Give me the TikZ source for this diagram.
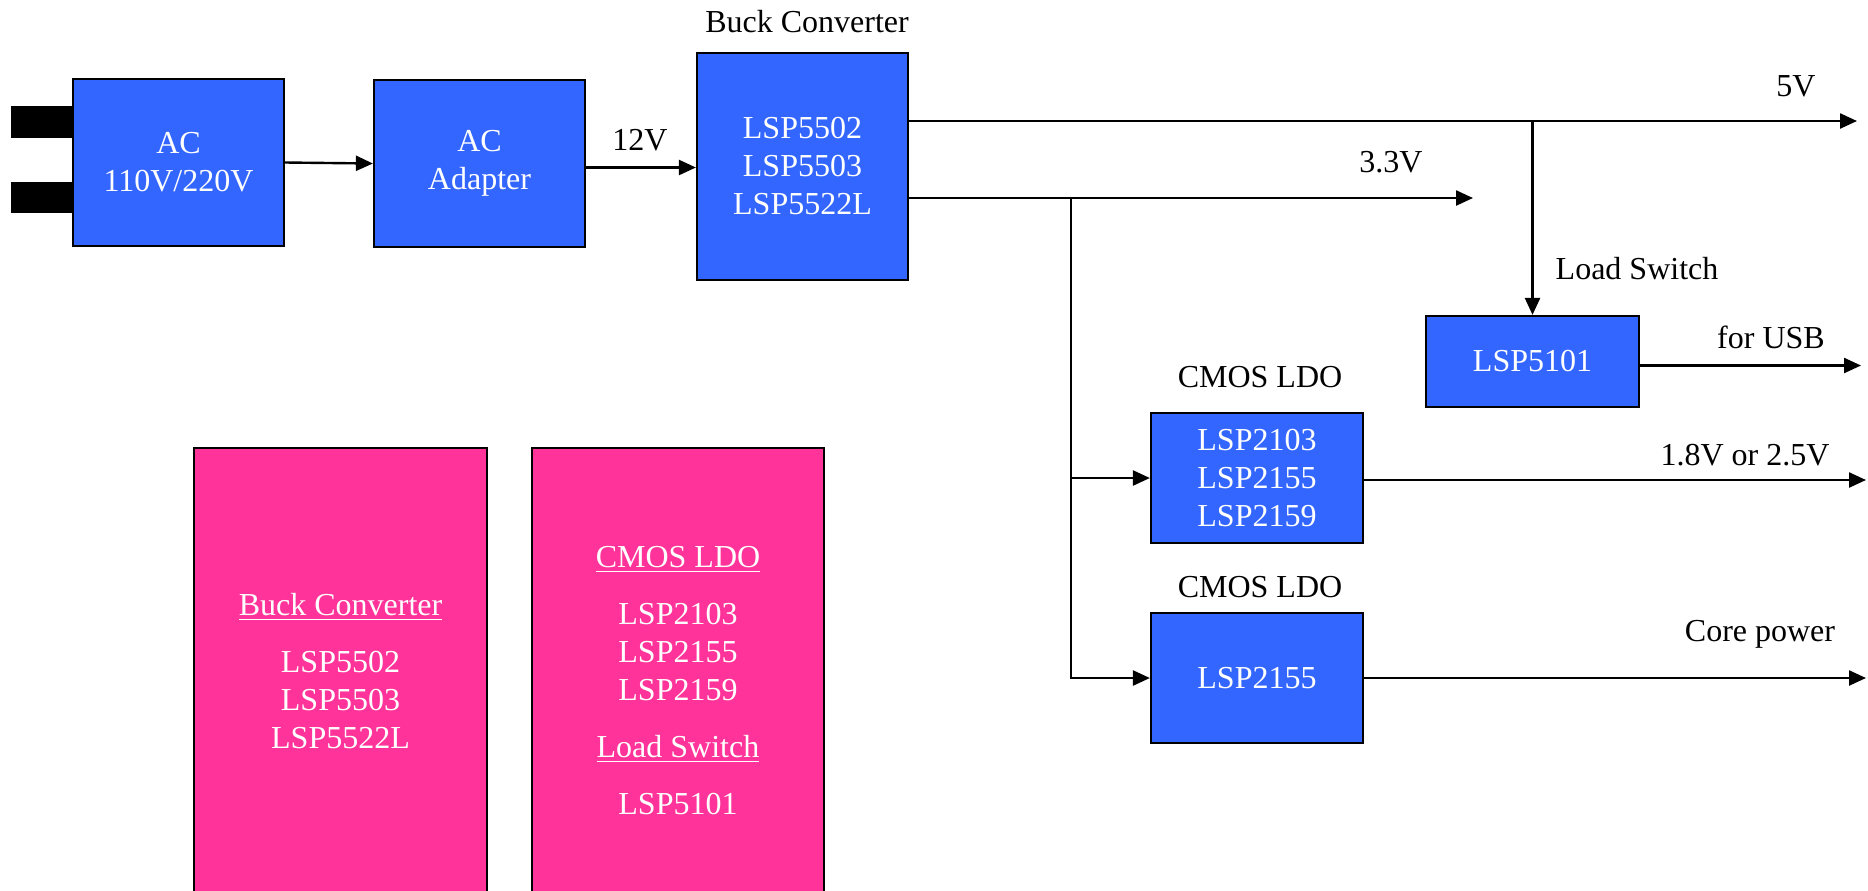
\documentclass[tikz,border=0pt]{standalone}
\usepackage{fontspec}
\setmainfont{Liberation Serif}
\usetikzlibrary{arrows.meta}
\definecolor{boxblue}{RGB}{51,102,255}
\definecolor{boxpink}{RGB}{255,51,153}
\begin{document}
\begin{tikzpicture}[x=0.5pt,y=-0.5pt,blk/.style={shape=rectangle,draw=black,line width=1.1pt,fill=boxblue,text=white,align=center,inner sep=0pt,font=\fontsize{16}{19}\selectfont},pnk/.style={blk,fill=boxpink,line width=0.8pt},lbl/.style={anchor=base,inner sep=0pt,font=\fontsize{16}{19}\selectfont},arr/.style={line width=1.2pt,-{Triangle[length=8.5pt,width=7.5pt]}}]
\useasboundingbox (0,0) rectangle (1868,890);
\clip (0,0) rectangle (1868,890);

\fill[black] (11,106) rectangle (80,138);
\fill[black] (11,182) rectangle (80,213);

\node[blk,minimum width=105.5pt,minimum height=83.5pt] (AC) at (178.5,162.5) {AC\\110V/220V};
\node[blk,minimum width=105.5pt,minimum height=83.5pt] (ADP) at (479.5,163.5) {AC\\Adapter};
\node[blk,minimum width=105.5pt,minimum height=113.5pt] (BUCK) at (802.5,166.5) {LSP5502\\LSP5503\\LSP5522L};
\node[blk,minimum width=106.5pt,minimum height=45.5pt] (LSW) at (1532.5,361.5) {LSP5101};
\node[blk,minimum width=106pt,minimum height=65pt] (LDOa) at (1257,478) {LSP2103\\LSP2155\\LSP2159};
\node[blk,minimum width=106pt,minimum height=65pt] (LDOb) at (1257,678) {LSP2155};

\node[pnk,minimum width=146.5pt,minimum height=223.5pt] (PA) at (340.5,671.5) {\underline{Buck Converter}\\[9.5pt]LSP5502\\LSP5503\\LSP5522L};
\node[pnk,minimum width=146pt,minimum height=233pt] (PB) at (678,681) {\underline{CMOS LDO}\\[9.5pt]LSP2103\\LSP2155\\LSP2159\\[9.5pt]\underline{Load Switch}\\[9.5pt]LSP5101};

\coordinate (v5) at (1857,121);
\coordinate (v33) at (1473,198);
\coordinate (tap) at (1071,198);
\coordinate (vout) at (1866,0);
\coordinate (usb) at (1861,0);

\draw[arr] (AC.east) -- (ADP.west);
\draw[arr] ([yshift=-2pt]ADP.east) -- ([yshift=-2pt]ADP.east -| BUCK.west);
\draw[arr] ([yshift=22.75pt]BUCK.east) -- (v5);
\draw[arr] ([yshift=-15.75pt]BUCK.east) -- (v33);
\draw[arr] (LSW.north |- v5) -- (LSW.north);
\draw[arr] (tap) |- (LDOb.west);
\draw[arr] (tap |- LDOa.west) -- (LDOa.west);
\draw[arr] ([yshift=-2pt]LSW.east) -- ([yshift=-2pt]LSW.east -| usb);
\draw[arr] ([yshift=-1pt]LDOa.east) -- ([yshift=-1pt]LDOa.east -| vout);
\draw[arr] (LDOb.east) -- (LDOb.east -| vout);

\node[lbl] (tBUCK) at (807,32) {Buck Converter};
\node[lbl] (t12) at (640,150) {12V};
\node[lbl] (t5) at (1796,96) {5V};
\node[lbl] (t33) at (1391,172) {3.3V};
\node[lbl] (tLSW) at (1637,279) {Load Switch};
\node[lbl] (tUSB) at (1771,348) {for USB};
\node[lbl] (tLDOa) at (1260,387) {CMOS LDO};
\node[lbl] (tLDOb) at (1260,597) {CMOS LDO};
\node[lbl] (t18) at (1745,465) {1.8V or 2.5V};
\node[lbl] (tCORE) at (1760,641) {Core power};

\end{tikzpicture}
\end{document}
